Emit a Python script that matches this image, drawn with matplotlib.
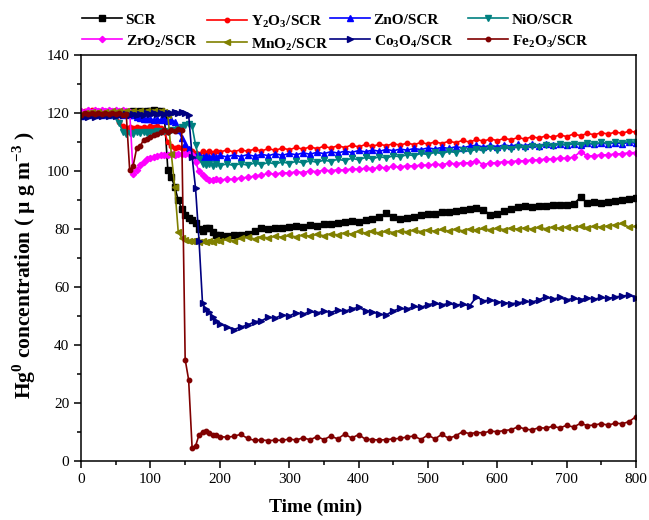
import numpy as np
import matplotlib
matplotlib.use("Agg")
import matplotlib.pyplot as plt
from matplotlib.ticker import MultipleLocator

plt.rcParams['font.family'] = ['Liberation Serif', 'DejaVu Serif']
plt.rcParams['mathtext.fontset'] = 'custom'
plt.rcParams['mathtext.rm'] = 'Liberation Serif'
plt.rcParams['mathtext.bf'] = 'Liberation Serif:bold'

# sampling: every 5 min up to 200 min, then every 10 min
t_early = np.arange(0, 200, 5)
t_late = np.arange(200, 801, 10)
time = np.concatenate([t_early, t_late])

scr_early = [119.5, 120.0, 119.8, 120.2, 119.9, 120.3, 120.0, 120.4, 120.1, 120.5,
             120.2, 120.4, 120.1, 120.5, 120.3, 120.6, 120.4, 120.7, 120.5, 120.8,
             120.6, 120.9, 120.7, 120.8, 119.0, 100.5, 98.0, 94.5, 90.0, 87.0,
             85.0, 83.8, 83.0, 82.0, 80.0, 79.5, 80.2, 80.5, 79.0, 78.0]
scr_late = [77.9, 77.5, 77.8, 78.0, 78.3, 79.5, 80.2, 80.0, 80.5, 80.3,
            80.8, 81.0, 80.7, 81.3, 81.2, 81.6, 81.8, 82.0, 82.3, 82.8,
            82.6, 83.2, 83.6, 84.2, 85.4, 84.0, 83.5, 83.8, 84.3, 84.8,
            85.3, 85.2, 85.8, 86.0, 86.3, 86.5, 86.8, 87.3, 86.6, 84.9,
            85.1, 86.3, 87.0, 87.6, 87.8, 87.6, 88.0, 87.9, 88.2, 88.3,
            88.4, 88.6, 91.0, 89.0, 89.2, 89.1, 89.5, 89.8, 90.1, 90.4,
            90.6]

y2o3_early = [120.5, 120.8, 120.4, 120.9, 120.5, 120.8, 120.4, 120.7, 120.5, 120.6,
              119.5, 117.0, 115.5, 115.0, 115.3, 114.8, 115.2, 114.9, 115.3, 115.0,
              115.4, 115.1, 115.5, 114.8, 113.5, 110.0, 108.5, 108.0, 108.3, 107.8,
              107.2, 107.5, 106.8, 106.2, 106.0, 106.8, 106.2, 107.0, 106.3, 107.0]
y2o3_late = [106.5, 107.3, 106.6, 107.4, 106.8, 107.6, 106.9, 107.8, 107.1, 108.0,
             107.3, 108.2, 107.5, 108.4, 107.7, 108.6, 107.9, 108.8, 108.1, 109.0,
             108.3, 109.2, 108.5, 109.3, 108.7, 109.5, 108.9, 109.7, 109.1, 109.9,
             109.3, 110.1, 109.5, 110.3, 109.8, 110.6, 110.0, 110.9, 110.3, 111.1,
             110.5, 111.3, 110.8, 111.6, 111.0, 111.9, 111.3, 112.2, 111.6, 112.5,
             111.9, 112.8, 112.2, 113.0, 112.5, 113.3, 112.7, 113.5, 113.0, 113.8,
             113.4]

zno_early = [119.0, 119.5, 119.2, 119.6, 119.3, 119.7, 119.4, 119.8, 119.5, 119.9,
             119.6, 119.8, 119.4, 119.6, 119.2, 119.5, 118.8, 118.3, 118.0, 117.8,
             118.0, 117.6, 117.9, 117.5, 117.8, 117.4, 117.6, 117.0, 114.0, 111.5,
             109.5, 107.5, 105.5, 105.2, 105.6, 105.0, 105.3, 104.9, 105.2, 104.8]
zno_late = [105.4, 104.9, 105.6, 105.0, 105.7, 105.1, 105.8, 105.3, 106.0, 105.4,
            106.1, 105.6, 106.3, 105.8, 106.5, 106.0, 106.7, 106.2, 106.9, 106.4,
            107.1, 106.6, 107.3, 106.8, 107.5, 107.0, 107.6, 107.2, 107.8, 107.4,
            108.0, 107.6, 108.2, 107.8, 108.4, 108.0, 108.6, 108.9, 108.3, 108.9,
            108.4, 109.0, 108.6, 109.2, 108.7, 109.4, 108.8, 109.4, 108.9, 109.5,
            109.0, 109.5, 109.1, 109.6, 109.2, 109.7, 109.3, 109.8, 109.4, 109.9,
            109.6]

nio_early = [120.0, 119.6, 120.1, 119.7, 120.2, 119.8, 120.1, 119.7, 120.0, 119.5,
             118.5, 116.5, 113.5, 112.8, 113.2, 112.9, 113.4, 113.0, 113.5, 113.1,
             113.6, 113.2, 113.7, 113.4, 113.9, 113.6, 114.1, 114.0, 114.6, 115.2,
             115.8, 116.3, 115.5, 109.0, 104.0, 102.5, 102.0, 102.4, 101.8, 102.3]
nio_late = [101.8, 102.5, 101.9, 102.6, 102.0, 102.8, 102.2, 103.0, 102.4, 103.2,
            102.6, 103.4, 102.8, 103.6, 103.0, 103.8, 103.3, 104.1, 103.6, 104.4,
            103.9, 104.7, 104.2, 105.0, 104.5, 105.3, 104.9, 105.7, 105.3, 106.1,
            105.7, 106.5, 106.0, 106.8, 106.4, 107.2, 106.8, 107.5, 107.1, 107.8,
            107.4, 108.1, 107.7, 108.4, 108.0, 108.7, 108.3, 109.0, 108.6, 109.3,
            108.9, 109.5, 109.1, 109.7, 109.3, 109.9, 109.5, 110.1, 109.7, 110.2,
            109.9]

zro2_early = [120.8, 120.4, 120.9, 120.5, 121.0, 120.6, 121.0, 120.7, 121.1, 120.7,
              121.0, 120.6, 121.0, 120.7, 120.5, 99.0, 100.5, 102.0, 103.0, 104.0,
              104.5, 105.0, 105.2, 105.4, 105.5, 105.6, 105.8, 105.7, 105.9, 105.8,
              106.0, 105.8, 105.5, 103.0, 100.0, 98.5, 97.5, 97.0, 96.8, 97.2]
zro2_late = [96.8, 97.3, 97.1, 97.7, 97.8, 98.3, 98.6, 99.2, 98.9, 99.5,
             99.3, 99.8, 99.5, 100.0, 99.8, 100.3, 100.1, 100.5, 100.3, 100.8,
             100.6, 101.0, 100.8, 101.3, 101.1, 101.6, 101.4, 101.9, 101.7, 102.1,
             102.0, 102.4, 102.2, 102.7, 102.5, 102.9, 102.8, 103.6, 102.2, 102.8,
             102.9, 103.3, 103.2, 103.6, 103.5, 103.9, 103.8, 104.2, 104.1, 104.5,
             104.4, 104.8, 106.7, 105.2, 105.3, 105.6, 105.6, 105.9, 106.0, 106.3,
             106.4]

mno2_early = [119.8, 120.2, 119.9, 120.3, 120.0, 120.4, 120.1, 120.5, 120.2, 120.6,
              120.3, 120.6, 120.4, 120.7, 120.5, 120.8, 120.5, 120.7, 120.4, 120.8,
              120.5, 120.7, 120.4, 120.6, 120.3, 119.5, 106.0, 94.5, 79.0, 77.0,
              76.3, 76.0, 75.8, 76.2, 75.6, 75.8, 75.4, 76.0, 75.6, 76.1]
mno2_late = [75.8, 76.5, 76.0, 76.8, 77.3, 76.6, 77.4, 76.9, 77.6, 77.1,
             77.8, 77.3, 78.0, 77.5, 78.2, 77.7, 78.4, 78.0, 78.7, 78.3,
             79.3, 78.6, 79.2, 78.6, 79.3, 78.8, 79.5, 79.0, 79.7, 79.1,
             79.8, 79.2, 79.9, 79.3, 80.0, 79.4, 80.1, 79.6, 80.2, 79.7,
             80.3, 79.8, 80.4, 79.9, 80.5, 80.0, 80.6, 80.1, 80.7, 80.2,
             80.8, 80.3, 80.9, 80.5, 81.0, 80.6, 81.2, 81.4, 82.0, 80.6,
             81.0]

co3o4_early = [118.5, 119.0, 118.6, 119.2, 118.8, 119.3, 118.9, 119.4, 119.0, 119.5,
               119.1, 119.4, 119.2, 119.6, 119.3, 119.7, 119.4, 119.8, 119.5, 119.9,
               119.6, 120.0, 119.7, 120.1, 119.8, 120.2, 119.9, 120.3, 120.0, 120.4,
               120.1, 119.5, 105.0, 94.0, 76.0, 54.4, 52.3, 51.3, 49.8, 48.2]
co3o4_late = [47.3, 46.2, 45.3, 46.2, 46.9, 48.0, 48.4, 49.6, 49.3, 50.4,
              50.0, 51.2, 50.6, 51.6, 51.0, 51.8, 51.2, 52.1, 51.6, 52.5,
              53.0, 51.8, 51.5, 50.6, 50.4, 51.8, 52.6, 52.4, 53.3, 53.0,
              53.9, 54.4, 53.8, 54.4, 53.7, 54.2, 53.4, 56.7, 55.2, 55.6,
              54.9, 54.6, 54.3, 54.5, 55.1, 54.8, 55.6, 56.7, 55.8, 56.4,
              55.5, 56.2, 55.6, 56.3, 55.8, 56.4, 56.1, 56.6, 56.9, 57.2,
              56.3]

fe2o3_early = [119.5, 120.0, 119.6, 120.1, 119.7, 120.2, 119.8, 120.2, 119.7, 120.1,
               119.6, 119.9, 119.5, 119.8, 100.3, 101.8, 107.8, 108.5, 110.8, 111.2,
               111.9, 112.4, 112.8, 113.5, 114.0, 113.6, 114.3, 113.8, 114.5, 114.1,
               35.0, 28.0, 4.6, 5.2, 9.0, 10.1, 10.2, 9.6, 9.1, 8.8]
fe2o3_late = [8.4, 8.2, 8.5, 9.2, 7.8, 7.1, 7.3, 7.0, 7.2, 7.1,
              7.6, 7.2, 8.0, 7.3, 8.4, 7.4, 8.6, 7.6, 9.3, 7.9,
              9.1, 7.5, 7.4, 7.2, 7.4, 7.6, 7.8, 8.3, 8.6, 7.4,
              9.0, 7.6, 9.2, 7.8, 8.7, 10.1, 9.4, 9.8, 9.7, 10.3,
              10.1, 10.5, 10.8, 11.8, 11.0, 10.7, 11.5, 11.3, 12.0, 11.4,
              12.3, 11.7, 13.0, 12.2, 12.4, 12.9, 12.3, 13.1, 12.8, 13.6,
              15.3]

series = [
    ('SCR', scr_early + scr_late, 'black', 's'),
    (r'Y$_\mathbf{2}$O$_\mathbf{3}$/SCR', y2o3_early + y2o3_late, '#ff0000', 'o'),
    ('ZnO/SCR', zno_early + zno_late, '#0000ff', '^'),
    ('NiO/SCR', nio_early + nio_late, '#008080', 'v'),
    (r'ZrO$_\mathbf{2}$/SCR', zro2_early + zro2_late, '#ff00ff', 'D'),
    (r'MnO$_\mathbf{2}$/SCR', mno2_early + mno2_late, '#808000', '<'),
    (r'Co$_\mathbf{3}$O$_\mathbf{4}$/SCR', co3o4_early + co3o4_late, '#000080', '>'),
    (r'Fe$_\mathbf{2}$O$_\mathbf{3}$/SCR', fe2o3_early + fe2o3_late, '#800000', 'o'),
]

fig = plt.figure(figsize=(6.49, 5.20), dpi=100)
ax = fig.add_axes([0.125, 0.1135, 0.855, 0.7805])

handles = []
for label, vals, color, marker in series:
    ms = 3.2 if marker in ('o', 'D') else 3.8
    h, = ax.plot(time, vals, color=color, marker=marker, markersize=ms,
                 linewidth=1.2, label=label)
    handles.append(h)

ax.set_xlim(0, 800)
ax.set_ylim(0, 140)
ax.xaxis.set_major_locator(MultipleLocator(100))
ax.xaxis.set_minor_locator(MultipleLocator(50))
ax.yaxis.set_major_locator(MultipleLocator(20))
ax.yaxis.set_minor_locator(MultipleLocator(10))
ax.tick_params(which='both', direction='out', top=False, right=False,
               labelsize=11, width=1.1)
ax.tick_params(which='major', length=5)
ax.tick_params(which='minor', length=3)
for sp in ax.spines.values():
    sp.set_linewidth(1.1)

ax.set_xlabel('Time (min)', fontsize=14, fontweight='bold')
ax.xaxis.set_label_coords(0.423, -0.092)
ax.set_ylabel(r'Hg$^\mathbf{0}$ concentration ( µ g m$^\mathbf{-3}$ )',
              fontsize=15.5, fontweight='bold')
ax.yaxis.set_label_coords(-0.077, 0.483)

# one small legend per column: top row entry over bottom row entry
col_x = [82, 207, 330, 468]
for j, x in enumerate(col_x):
    pair = [j, j + 4]
    fig.legend([handles[i] for i in pair], [series[i][0] for i in pair],
               loc='upper left', bbox_to_anchor=(x / 649, 0.975),
               frameon=False, prop={'weight': 'bold', 'size': 11},
               handlelength=2.6, handletextpad=0.25, labelspacing=0.4,
               borderpad=0, borderaxespad=0)

fig.savefig('out.png', dpi=100)
